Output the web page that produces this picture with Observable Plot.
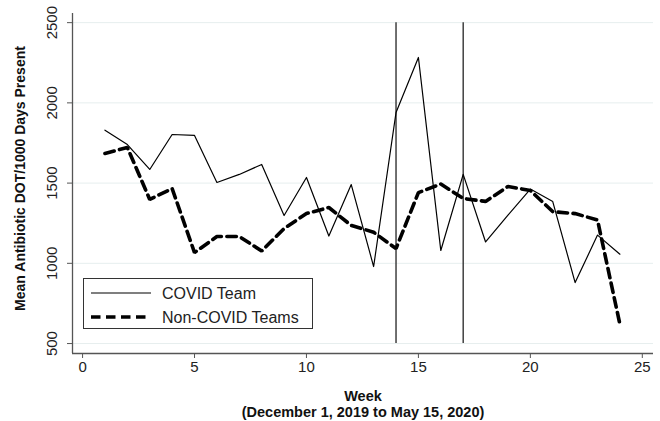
<!DOCTYPE html>
<html>
<head>
<meta charset="utf-8">
<script src="https://cdn.jsdelivr.net/npm/d3@7"></script>
<script src="https://cdn.jsdelivr.net/npm/@observablehq/plot@0.6"></script>
<style>
  html, body { margin: 0; padding: 0; background: #fff; }
  #wrap { position: relative; width: 660px; height: 421px; font-family: "Liberation Sans", Arial, sans-serif; }
  #legend { position: absolute; left: 83px; top: 278px; width: 230px; height: 51px; border: 1.2px solid #333; background: #fff; box-sizing: border-box; }
  #legend svg { position: absolute; left: 0; top: 0; }
</style>
</head>
<body>
<div id="wrap"></div>
<script>
const weeks = [1,2,3,4,5,6,7,8,9,10,11,12,13,14,15,16,17,18,19,20,21,22,23,24];
const covidTeam = [1830,1740,1585,1803,1797,1504,1554,1616,1298,1535,1170,1491,980,1940,2283,1080,1554,1133,1300,1463,1385,880,1176,1057];
const nonCovidTeams = [1685,1722,1398,1466,1067,1167,1167,1077,1217,1310,1348,1236,1194,1092,1441,1494,1404,1386,1479,1454,1322,1310,1270,620];
const seriesNames = ["COVID Team", "Non-COVID Teams"];
const xTicks = [0,5,10,15,20,25];
const yTicks = [500,1000,1500,2000,2500];
const eventWeeks = [14,17];
const yLabel = "Mean Antibiotic DOT/1000 Days Present";
const xLabel1 = "Week";
const xLabel2 = "(December 1, 2019 to May 15, 2020)";

const covidData = weeks.map((w,i) => ({week: w, value: covidTeam[i]}));
const nonData = weeks.map((w,i) => ({week: w, value: nonCovidTeams[i]}));

const xDomain = [-0.45, 25.5];
const yDomain = [438, 2557];

const chart = Plot.plot({
  width: 660,
  height: 421,
  marginLeft: 72,
  marginRight: 7,
  marginTop: 13,
  marginBottom: 68,
  style: { fontFamily: "'Liberation Sans', Arial, sans-serif", background: "#fff" },
  x: { type: "linear", domain: xDomain },
  y: { type: "linear", domain: yDomain },
  marks: [
    Plot.ruleY(yTicks, { stroke: "#e6eeee", strokeWidth: 1 }),
    Plot.ruleX(eventWeeks, { y1: yTicks[0], y2: yTicks[yTicks.length-1], stroke: "#333", strokeWidth: 1.4 }),
    Plot.line(nonData, { x: "week", y: "value", stroke: "#000", strokeWidth: 3.6, strokeDasharray: "9.5,5.5", strokeLinejoin: "miter" }),
    Plot.line(covidData, { x: "week", y: "value", stroke: "#000", strokeWidth: 1.2 }),
    Plot.ruleX([xDomain[0]], { stroke: "#555", strokeWidth: 1.3 }),
    Plot.ruleY([yDomain[0]], { stroke: "#555", strokeWidth: 1.3 }),
    Plot.axisX({ ticks: xTicks, tickSize: 5, tickPadding: 3, fontSize: 15, label: null, stroke: "#555", color: "#222" }),
    Plot.axisY({ ticks: yTicks, tickSize: 5, label: null, text: null, stroke: "#555" }),
    Plot.text(yTicks, { y: d => d, text: d => String(d), frameAnchor: "left", textAnchor: "middle", lineAnchor: "middle", rotate: -90, dx: -20, fontSize: 15, fill: "#222" }),
    Plot.text([yLabel], { frameAnchor: "left", textAnchor: "middle", lineAnchor: "middle", rotate: -90, dx: -52, dy: -5, fontSize: 14, fontWeight: "bold", fill: "#111" }),
    Plot.text([xLabel1], { frameAnchor: "bottom", dy: 47, fontSize: 14.5, fontWeight: "bold", fill: "#111" }),
    Plot.text([xLabel2], { frameAnchor: "bottom", dy: 63, fontSize: 14.5, fontWeight: "bold", fill: "#111" })
  ]
});

const wrap = document.getElementById("wrap");
wrap.appendChild(chart);

// legend
const legend = document.createElement("div");
legend.id = "legend";
const ns = "http://www.w3.org/2000/svg";
const lsvg = document.createElementNS(ns, "svg");
lsvg.setAttribute("width", 228);
lsvg.setAttribute("height", 49);
const styles = [{sw: 1.2, dash: null}, {sw: 3.6, dash: "9.5,5.5"}];
seriesNames.forEach((name, i) => {
  const y = 14 + i * 24;
  const ln = document.createElementNS(ns, "line");
  ln.setAttribute("x1", 7); ln.setAttribute("x2", 67);
  ln.setAttribute("y1", y); ln.setAttribute("y2", y);
  ln.setAttribute("stroke", "#000");
  ln.setAttribute("stroke-width", styles[i].sw);
  if (styles[i].dash) ln.setAttribute("stroke-dasharray", styles[i].dash);
  lsvg.appendChild(ln);
  const t = document.createElementNS(ns, "text");
  t.setAttribute("x", 78); t.setAttribute("y", y);
  t.setAttribute("dy", "0.35em");
  t.setAttribute("font-size", 16);
  t.setAttribute("font-family", "'Liberation Sans', Arial, sans-serif");
  t.setAttribute("fill", "#222");
  t.textContent = name;
  lsvg.appendChild(t);
});
legend.appendChild(lsvg);
wrap.appendChild(legend);
</script>
</body>
</html>
